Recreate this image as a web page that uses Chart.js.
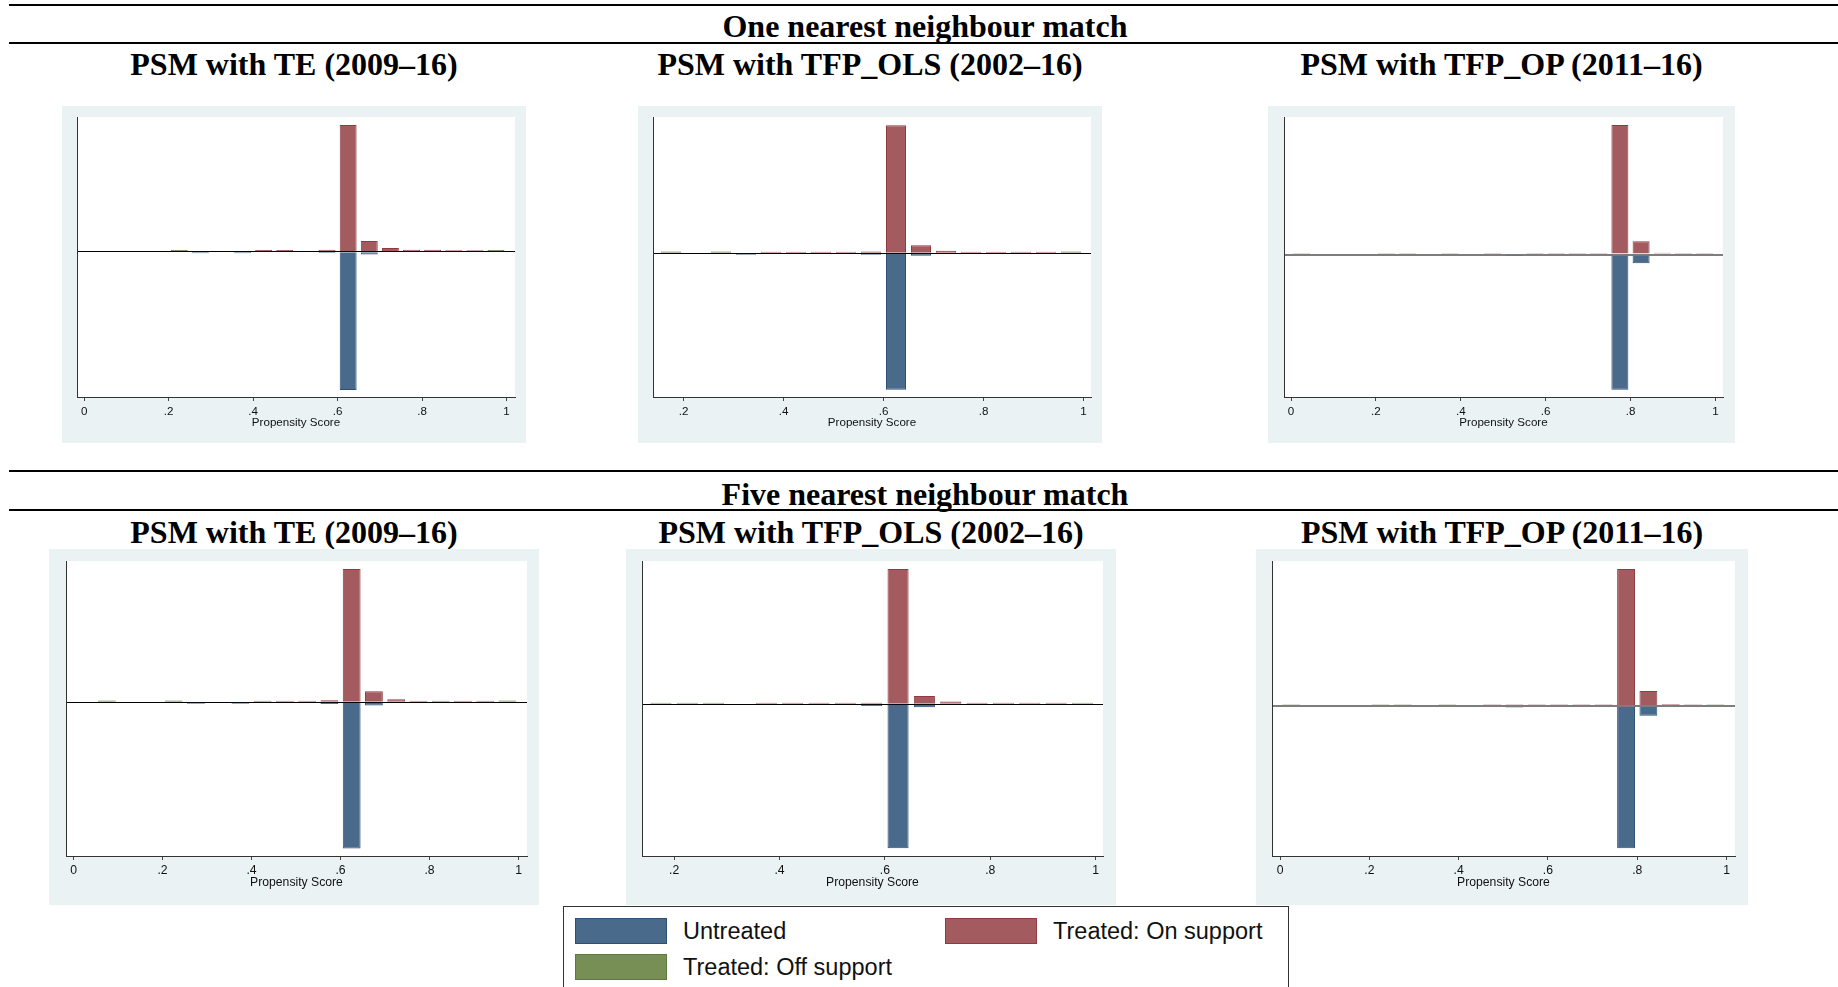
<!DOCTYPE html>
<html>
<head>
<meta charset="utf-8">
<script src="https://cdn.jsdelivr.net/npm/chart.js@4.4.1/dist/chart.umd.min.js"></script>
<style>
  body { margin: 0; background: #fff; }
  #page { position: relative; width: 1838px; height: 987px; overflow: hidden; }
  .rule { position: absolute; left: 9px; right: 0; height: 2px; background: #000; }
  .heading { position: absolute; width: 900px; height: 40px; line-height: 40px; text-align: center; white-space: nowrap;
             font: bold 32px 'Liberation Serif', 'Times New Roman', serif; color: #000; }
  .panel { position: absolute; background: #eaf2f3; }
  #legend { position: absolute; left: 563px; top: 906px; width: 724px; height: 95px; border: 1.5px solid #333; background: #fff;
            font-family: 'Liberation Sans', Arial, sans-serif; font-size: 23.5px; color: #111; }
  .swatch { position: absolute; width: 90px; height: 24px; border: 1px solid; }
  .label { position: absolute; height: 30px; line-height: 30px; white-space: nowrap; }
</style>
</head>
<body>
<div id="page"></div>
<script>
// histogram bins of the propensity score (width .05)
const binCenters = [0.025, 0.075, 0.125, 0.175, 0.225, 0.275, 0.325, 0.375, 0.425, 0.475,
                    0.525, 0.575, 0.625, 0.675, 0.725, 0.775, 0.825, 0.875, 0.925, 0.975];

const groupNames = ['Untreated', 'Treated: On support', 'Treated: Off support'];
const groupFill = ['#496a8b', '#a45b60', '#778f55'];
const groupLine = ['#2c5078', '#913a42', '#5b7a3b'];

const sectionTitles = ['One nearest neighbour match', 'Five nearest neighbour match'];
const panelTitles = ['PSM with TE (2009–16)', 'PSM with TFP_OLS (2002–16)', 'PSM with TFP_OP (2011–16)'];
const axisTitle = 'Propensity Score';
const ticksFrom0 = [0, 0.2, 0.4, 0.6, 0.8, 1];
const ticksFrom02 = [0.2, 0.4, 0.6, 0.8, 1];

const _ = null;
// densities, untreated drawn below zero
// one nearest neighbour
const te1Untreated  = [_, _, _, _, _, -0.22, _, -0.22, _, _, _, -0.18, -18.56, -0.36, _, _, _, _, _, _];
const te1OnSupport  = [_, _, _, _, _, _, _, _, 0.22, 0.22, _, 0.25, 17.0, 1.44, 0.50, 0.25, 0.25, 0.2, 0.2, _];
const te1OffSupport = [_, _, _, _, 0.22, _, _, _, _, _, _, _, _, _, _, _, _, _, _, 0.22];

const ols1Untreated  = [_, _, _, _, _, _, -0.22, _, _, _, _, -0.22, -18.35, -0.36, _, _, _, _, _, _];
const ols1OnSupport  = [_, _, _, _, _, _, _, 0.2, 0.2, 0.2, 0.2, 0.24, 17.2, 1.07, 0.31, 0.2, 0.2, 0.2, 0.2, _];
const ols1OffSupport = [_, _, _, 0.22, _, 0.22, _, _, _, _, _, _, _, _, _, _, _, _, _, 0.22];

const op1Untreated  = [_, _, _, _, _, _, _, _, _, _, -0.2, _, _, _, _, -18.16, -1.17, _, _, _];
const op1OnSupport  = [_, _, _, _, _, _, _, _, _, 0.2, _, 0.2, 0.2, 0.2, 0.2, 17.4, 1.79, 0.25, 0.2, 0.2];
const op1OffSupport = [0.2, _, _, _, 0.2, 0.2, _, 0.2, _, _, _, _, _, _, _, _, _, _, _, _];

// five nearest neighbours
const te5Untreated  = [_, _, _, _, _, -0.22, _, -0.22, _, _, _, -0.25, -19.64, -0.44, _, _, _, _, _, _];
const te5OnSupport  = [_, _, _, _, _, _, _, _, 0.2, 0.2, 0.2, 0.24, 17.85, 1.48, 0.40, 0.2, 0.2, 0.2, 0.2, _];
const te5OffSupport = [_, 0.22, _, _, 0.22, _, _, _, _, _, _, _, _, _, _, _, _, _, _, 0.22];

const ols5Untreated  = [_, _, _, _, _, _, _, _, _, _, _, -0.22, -19.33, -0.40, _, _, _, _, _, _];
const ols5OnSupport  = [_, _, _, _, _, _, _, 0.2, 0.2, 0.2, 0.2, 0.22, 18.16, 1.11, 0.36, 0.2, 0.2, 0.2, 0.2, _];
const ols5OffSupport = [_, _, _, 0.22, 0.22, 0.22, _, _, _, _, _, _, _, _, _, _, _, _, _, 0.22];

const op5Untreated  = [_, _, _, _, _, _, _, _, _, _, -0.2, _, _, _, _, -19.1, -1.30, _, _, _];
const op5OnSupport  = [_, _, _, _, _, _, _, _, _, 0.2, 0.2, 0.2, 0.2, 0.2, 0.2, 18.39, 2.01, 0.25, 0.2, _];
const op5OffSupport = [0.2, _, _, _, 0.2, 0.2, _, 0.2, _, _, _, _, _, _, _, _, _, _, _, 0.2];

const panels = [
  { series: [te1Untreated, te1OnSupport, te1OffSupport], xTicks: ticksFrom0, xMin: -0.017, xMax: 1.02, yMin: -19.5, yMax: 18.08,
    box: [62, 106, 464, 337], pad: [15, 11, 11], axisH: 46, zero: ['#000', 1], font: 11.6, tickPad: 4, titlePad: 13 },
  { series: [ols1Untreated, ols1OnSupport, ols1OffSupport], xTicks: ticksFrom02, xMin: 0.139, xMax: 1.015, yMin: -19.33, yMax: 18.3,
    box: [638, 106, 464, 337], pad: [15, 11, 11], axisH: 46, zero: ['#000', 1], font: 11.6, tickPad: 4, titlePad: 13 },
  { series: [op1Untreated, op1OnSupport, op1OffSupport], xTicks: ticksFrom0, xMin: -0.0165, xMax: 1.018, yMin: -19.14, yMax: 18.48,
    box: [1268, 106, 467, 337], pad: [16, 12, 11], axisH: 46, zero: ['#7d7d7d', 2], font: 11.6, tickPad: 4, titlePad: 13 },
  { series: [te5Untreated, te5OnSupport, te5OffSupport], xTicks: ticksFrom0, xMin: -0.017, xMax: 1.019, yMin: -20.63, yMax: 18.93,
    box: [49, 549, 490, 356], pad: [17, 12, 12], axisH: 49, zero: ['#000', 1], font: 12.2, tickPad: 3, titlePad: 15 },
  { series: [ols5Untreated, ols5OnSupport, ols5OffSupport], xTicks: ticksFrom02, xMin: 0.139, xMax: 1.014, yMin: -20.36, yMax: 19.23,
    box: [626, 549, 490, 356], pad: [16, 13, 12], axisH: 49, zero: ['#000', 1], font: 12.2, tickPad: 3, titlePad: 15 },
  { series: [op5Untreated, op5OnSupport, op5OffSupport], xTicks: ticksFrom0, xMin: -0.018, xMax: 1.019, yMin: -20.13, yMax: 19.46,
    box: [1256, 549, 492, 356], pad: [16, 13, 12], axisH: 49, zero: ['#7d7d7d', 2], font: 12.2, tickPad: 3, titlePad: 15 }
];

const page = document.getElementById('page');

// rules and headings
[5, 43, 471, 510].forEach(y => {
  const r = document.createElement('div');
  r.className = 'rule';
  r.style.top = (y - 1) + 'px';
  page.appendChild(r);
});

function heading(text, cx, cy) {
  const h = document.createElement('div');
  h.className = 'heading';
  h.textContent = text;
  h.style.left = (cx - 450) + 'px';
  h.style.top = (cy - 20) + 'px';
  page.appendChild(h);
}
heading(sectionTitles[0], 925, 27.5);
heading(sectionTitles[1], 925, 495.5);
panels.forEach((p, i) => {
  const cx = p.box[0] + p.box[2] / 2;
  heading(panelTitles[i % 3], cx, i < 3 ? 65.5 : 533.5);
});

const plotBackground = {
  id: 'plotBackground',
  beforeDraw(chart) {
    const { ctx, chartArea: a } = chart;
    ctx.save();
    ctx.fillStyle = '#fff';
    ctx.fillRect(a.left, a.top, a.right - a.left, a.bottom - a.top);
    ctx.restore();
  }
};

function tickText(v) {
  if (v === 0) return '0';
  if (v === 1) return '1';
  return String(v).replace(/^0/, '');
}

panels.forEach(p => {
  const c = document.createElement('canvas');
  c.className = 'panel';
  c.width = p.box[2];
  c.height = p.box[3];
  c.style.left = p.box[0] + 'px';
  c.style.top = p.box[1] + 'px';
  c.style.width = p.box[2] + 'px';
  c.style.height = p.box[3] + 'px';
  page.appendChild(c);

  new Chart(c, {
    type: 'bar',
    data: {
      datasets: p.series.map((vals, g) => ({
        label: groupNames[g],
        data: binCenters.map((x, i) => ({ x: x, y: vals[i] })),
        backgroundColor: groupFill[g],
        borderColor: groupLine[g],
        borderWidth: 1,
        categoryPercentage: 1,
        barPercentage: 0.8
      }))
    },
    options: {
      responsive: false,
      animation: false,
      devicePixelRatio: 1,
      layout: { padding: { left: p.pad[0], right: p.pad[1], top: p.pad[2], bottom: 0 } },
      plugins: { legend: { display: false }, tooltip: { enabled: false } },
      scales: {
        x: {
          type: 'linear', stacked: true, offset: false,
          min: p.xMin, max: p.xMax,
          afterBuildTicks: s => { s.ticks = p.xTicks.map(v => ({ value: v })); },
          afterFit: s => { s.height = p.axisH; },
          grid: { drawOnChartArea: false, drawTicks: true, tickLength: 4, color: '#444', offset: false },
          border: { display: true, color: '#333', width: 1 },
          ticks: { padding: p.tickPad, color: '#111', maxRotation: 0, autoSkip: false,
                   font: { family: "'Liberation Sans', Arial, sans-serif", size: p.font },
                   callback: v => tickText(v) },
          title: { display: true, text: axisTitle, color: '#111', padding: { top: 0, bottom: p.titlePad },
                   font: { family: "'Liberation Sans', Arial, sans-serif", size: p.font } }
        },
        y: {
          stacked: true, min: p.yMin, max: p.yMax,
          afterBuildTicks: s => { s.ticks = [{ value: 0 }]; },
          afterFit: s => { s.width = 0; },
          ticks: { display: false },
          grid: { drawTicks: false, color: p.zero[0], lineWidth: p.zero[1] },
          border: { display: true, color: '#333', width: 1 }
        }
      }
    },
    plugins: [plotBackground]
  });
});

// shared legend
const legend = document.createElement('div');
legend.id = 'legend';
const legendSpots = [[11, 11, 119], [381, 11, 489], [11, 47, 119]];
groupNames.forEach((name, g) => {
  const [sx, sy, tx] = legendSpots[g];
  const sw = document.createElement('div');
  sw.className = 'swatch';
  sw.style.left = sx + 'px';
  sw.style.top = sy + 'px';
  sw.style.background = groupFill[g];
  sw.style.borderColor = groupLine[g];
  legend.appendChild(sw);
  const lb = document.createElement('div');
  lb.className = 'label';
  lb.textContent = name;
  lb.style.left = tx + 'px';
  lb.style.top = (sy - 2) + 'px';
  legend.appendChild(lb);
});
page.appendChild(legend);
</script>
</body>
</html>
